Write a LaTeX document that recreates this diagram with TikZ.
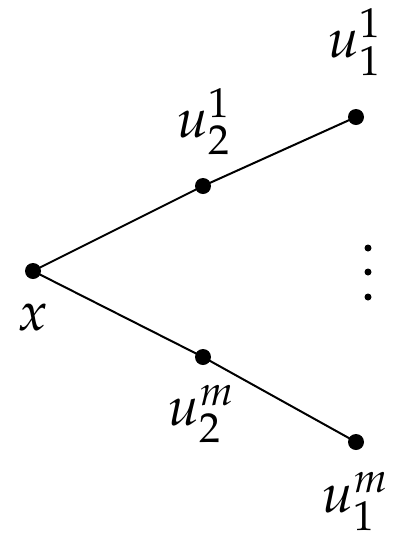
\documentclass[tikz,border=0pt]{standalone}
\usepackage{mathpazo}
\begin{document}
\begin{tikzpicture}[x=1pt,y=-1pt,
  vtx/.style={circle,fill=black,inner sep=0pt,minimum size=16pt},
  sdot/.style={circle,fill=black,inner sep=0pt,minimum size=7pt},
  lbl/.style={inner sep=0pt,anchor=base,font=\fontsize{55}{60}\selectfont},
  edge/.style={line width=2pt}]
\useasboundingbox (0,0) rectangle (400,550);
\node[vtx] (x) at (33,271) {};
\node[vtx] (u21) at (203,186) {};
\node[vtx] (u11) at (356,117) {};
\node[vtx] (u2m) at (203,357) {};
\node[vtx] (u1m) at (356,442) {};
\draw[edge] (x.center) -- (u21.center) -- (u11.center);
\draw[edge] (x.center) -- (u2m.center) -- (u1m.center);
\node[sdot] (d1) at (368,248) {};
\node[sdot] (d2) at (368,272) {};
\node[sdot] (d3) at (368,297) {};
\node[lbl] (lx) at (33,330) {$x$};
\node[lbl] (l21) at (203,137) {$u_2^1$};
\node[lbl] (l11) at (354,57) {$u_1^1$};
\node[lbl] (l2m) at (201,425) {$u_2^m$};
\node[lbl] (l1m) at (355,512) {$u_1^m$};
\end{tikzpicture}
\end{document}
